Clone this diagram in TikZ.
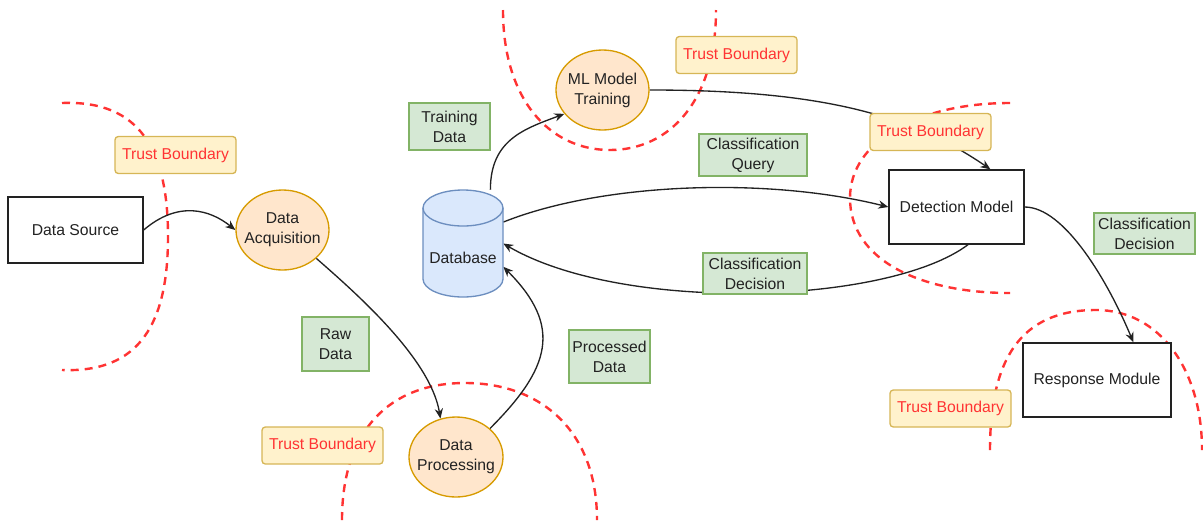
\documentclass[tikz,border=0pt]{standalone}
\usepackage{fontspec}
\setmainfont{Liberation Sans}
\usetikzlibrary{arrows.meta,shapes.geometric}

\definecolor{procfill}{HTML}{FFE6CC}
\definecolor{procline}{HTML}{D79B00}
\definecolor{labfill}{HTML}{D5E8D4}
\definecolor{labline}{HTML}{82B366}
\definecolor{tbfill}{HTML}{FFF2CC}
\definecolor{tbline}{HTML}{D6B656}
\definecolor{dbfill}{HTML}{DAE8FC}
\definecolor{dbline}{HTML}{6C8EBF}
\definecolor{tbred}{HTML}{FF3333}
\definecolor{ink}{HTML}{222222}

\pgfdeclarelayer{background}
\pgfsetlayers{background,main}

\tikzset{
  base/.style={inner sep=0pt, align=center, text=ink, font=\fontsize{11.8}{15}\selectfont},
  plainbox/.style={base, rectangle, draw=ink, fill=white, line width=1pt},
  procnode/.style={base, ellipse, draw=procline, fill=procfill, line width=1pt,
                   minimum width=69.75pt, minimum height=60pt},
  flowlabel/.style={base, rectangle, draw=labline, fill=labfill, line width=1pt},
  tblabel/.style={base, rectangle, rounded corners=2.5pt, draw=tbline, fill=tbfill,
                  line width=1pt, text=tbred, minimum width=90.75pt, minimum height=27.75pt},
  boundary/.style={draw=tbred, line width=1.8pt, dash pattern=on 6pt off 4.5pt},
  flow/.style={draw=ink, line width=1pt, -{Stealth[length=7.5pt,width=6.2pt]}},
}

\begin{document}
\begin{tikzpicture}[x=0.75pt,y=-0.75pt]
\useasboundingbox (0,0) rectangle (1203,522);

% database cylinder body
\filldraw[fill=dbfill, draw=dbline, line width=1pt]
  (423,208) -- (423,279) arc[start angle=180,end angle=360,x radius=30pt,y radius=13.5pt]
  -- (503,208) arc[start angle=0,end angle=180,x radius=30pt,y radius=13.5pt] -- cycle;
\draw[dbline, line width=1pt]
  (423,208) arc[start angle=180,end angle=360,x radius=30pt,y radius=13.5pt];

% components
\node[plainbox, minimum width=101.25pt, minimum height=49.5pt] (src) at (75.5,230) {Data Source};
\node[procnode, label={[base]center:Data\\Acquisition}] (acq) at (282.5,230) {};
\node[procnode, label={[base]center:ML Model\\Training}] (train) at (602.5,90) {};
\node[procnode, minimum width=70.5pt, label={[base]center:Data\\Processing}] (prc) at (456,457) {};
\node[inner sep=0pt, minimum width=60pt, minimum height=80.25pt,
      label={[base,yshift=-10.5pt]center:Database}] (db) at (463,243.5) {};
\node[plainbox, minimum width=101.25pt, minimum height=55.5pt] (det) at (956.5,207) {Detection Model};
\node[plainbox, minimum width=111pt, minimum height=55.5pt] (resp) at (1097,380) {Response Module};

% data flow labels
\node[flowlabel, minimum width=60.75pt, minimum height=35.25pt] (lTrain) at (449.5,126.5) {Training\\Data};
\node[flowlabel, minimum width=81pt, minimum height=31.5pt] (lQuery) at (753,155) {Classification\\Query};
\node[flowlabel, minimum width=78pt, minimum height=30.75pt] (lDecMid) at (755,273.5) {Classification\\Decision};
\node[flowlabel, minimum width=75.75pt, minimum height=30.75pt] (lDecRight) at (1144.5,233.5) {Classification\\Decision};
\node[flowlabel, minimum width=50.25pt, minimum height=40.5pt] (lRaw) at (335.5,344) {Raw\\Data};
\node[flowlabel, minimum width=60.75pt, minimum height=39.75pt] (lProc) at (609.5,356.5) {Processed\\Data};

% trust boundary tags
\node[tblabel] (tb1) at (175.5,155) {Trust Boundary};
\node[tblabel] (tb2) at (736.5,55) {Trust Boundary};
\node[tblabel] (tb3) at (930.5,132) {Trust Boundary};
\node[tblabel] (tb4) at (950.5,408.5) {Trust Boundary};
\node[tblabel] (tb5) at (322.5,445.5) {Trust Boundary};

\begin{pgfonlayer}{background}
  % trust boundary lines
  \draw[boundary] (62,103) .. controls (140,100) and (168,150) .. (168,236.5)
                           .. controls (168,323) and (140,373) .. (62,370);
  \draw[boundary] (503,10) .. controls (503,100) and (550,150) .. (610,150)
                           .. controls (670,150) and (716,100) .. (716,10);
  \draw[boundary] (1010,103) .. controls (920,103) and (850,140) .. (850,198)
                             .. controls (850,260) and (920,293) .. (1010,293);
  \draw[boundary] (990,450) .. controls (990,360) and (1020,310) .. (1096,310)
                            .. controls (1160,310) and (1202,370) .. (1202,450);
  \draw[boundary] (342,520) .. controls (342,430) and (390,383) .. (465,383)
                            .. controls (540,383) and (597,430) .. (597,520);

  % data flows
  \draw[flow] (src.east) .. controls +(35,-30) and +(-25,-20) .. (acq.west);
  \draw[flow] (acq.-40) .. controls +(40,35) and +(-10,-60) .. (prc.112);
  \draw[flow] (prc.40) .. controls +(60,-60) and +(60,60) .. (db.-30);
  \draw[flow] (db.63) .. controls +(0,-50) and +(-40,15) .. (train.212);
  \draw[flow] (train.east) .. controls +(170,0) and +(-80,-55) .. (det.48);
  \draw[flow] (db.28) .. controls +(100,-40) and +(-120,-30) .. (det.west);
  \draw[flow] (det.-73) .. controls +(-80,60) and +(120,70) .. (db.east);
  \draw[flow] (det.east) .. controls +(40,0) and +(-25,-60) .. (resp.46);
\end{pgfonlayer}
\end{tikzpicture}
\end{document}
